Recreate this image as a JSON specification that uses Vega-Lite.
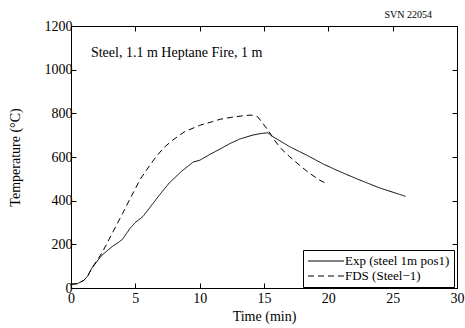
{
  "$schema": "https://vega.github.io/schema/vega-lite/v6.json",
  "width": 386,
  "height": 262,
  "autosize": {"type": "none"},
  "padding": {"left": 71, "top": 26, "right": 8, "bottom": 40},
  "background": "white",
  "title": {"text": "SVN 22054", "anchor": "end", "fontSize": 10, "font": "Liberation Serif", "fontWeight": "normal", "dx": -32, "dy": 1, "offset": 0, "color": "black"},
  "config": {
    "font": "Liberation Serif",
    "view": {"stroke": "black", "strokeWidth": 1},
    "axis": {
      "grid": false,
      "domainColor": "black",
      "tickColor": "black",
      "tickSize": -5,
      "labelFont": "Liberation Serif",
      "labelFontSize": 14,
      "labelColor": "black",
      "labelFlush": false,
      "format": "d",
      "titleFont": "Liberation Serif",
      "titleFontSize": 14,
      "titleFontWeight": "normal",
      "titleColor": "black"
    }
  },
  "datasets": {
    "curves": [
      {"series": "Exp (steel 1m pos1)", "t": 0, "T": 17},
      {"series": "Exp (steel 1m pos1)", "t": 0.5, "T": 20},
      {"series": "Exp (steel 1m pos1)", "t": 1, "T": 35},
      {"series": "Exp (steel 1m pos1)", "t": 1.3, "T": 55},
      {"series": "Exp (steel 1m pos1)", "t": 1.6, "T": 89},
      {"series": "Exp (steel 1m pos1)", "t": 2.0, "T": 120},
      {"series": "Exp (steel 1m pos1)", "t": 2.4, "T": 150},
      {"series": "Exp (steel 1m pos1)", "t": 2.8, "T": 170},
      {"series": "Exp (steel 1m pos1)", "t": 3.2, "T": 190},
      {"series": "Exp (steel 1m pos1)", "t": 3.6, "T": 205},
      {"series": "Exp (steel 1m pos1)", "t": 4.0, "T": 223},
      {"series": "Exp (steel 1m pos1)", "t": 4.6, "T": 274},
      {"series": "Exp (steel 1m pos1)", "t": 5.0, "T": 300},
      {"series": "Exp (steel 1m pos1)", "t": 5.6, "T": 328},
      {"series": "Exp (steel 1m pos1)", "t": 6.2, "T": 374},
      {"series": "Exp (steel 1m pos1)", "t": 6.9, "T": 428},
      {"series": "Exp (steel 1m pos1)", "t": 7.65, "T": 482},
      {"series": "Exp (steel 1m pos1)", "t": 8.6, "T": 535},
      {"series": "Exp (steel 1m pos1)", "t": 9.5, "T": 577},
      {"series": "Exp (steel 1m pos1)", "t": 10, "T": 585},
      {"series": "Exp (steel 1m pos1)", "t": 10.8, "T": 612},
      {"series": "Exp (steel 1m pos1)", "t": 11.6, "T": 637},
      {"series": "Exp (steel 1m pos1)", "t": 12.3, "T": 660},
      {"series": "Exp (steel 1m pos1)", "t": 13.1, "T": 682},
      {"series": "Exp (steel 1m pos1)", "t": 14.1, "T": 700},
      {"series": "Exp (steel 1m pos1)", "t": 14.7, "T": 707},
      {"series": "Exp (steel 1m pos1)", "t": 15.3, "T": 711},
      {"series": "Exp (steel 1m pos1)", "t": 15.7, "T": 693},
      {"series": "Exp (steel 1m pos1)", "t": 17, "T": 647},
      {"series": "Exp (steel 1m pos1)", "t": 18.3, "T": 609},
      {"series": "Exp (steel 1m pos1)", "t": 19.6, "T": 568},
      {"series": "Exp (steel 1m pos1)", "t": 20.9, "T": 533},
      {"series": "Exp (steel 1m pos1)", "t": 22.3, "T": 498},
      {"series": "Exp (steel 1m pos1)", "t": 24, "T": 458},
      {"series": "Exp (steel 1m pos1)", "t": 26, "T": 420},
      {"series": "FDS (Steel\u22121)", "t": 0, "T": 17},
      {"series": "FDS (Steel\u22121)", "t": 0.5, "T": 20},
      {"series": "FDS (Steel\u22121)", "t": 1, "T": 35},
      {"series": "FDS (Steel\u22121)", "t": 1.3, "T": 55},
      {"series": "FDS (Steel\u22121)", "t": 1.6, "T": 89},
      {"series": "FDS (Steel\u22121)", "t": 2.0, "T": 125},
      {"series": "FDS (Steel\u22121)", "t": 2.4, "T": 160},
      {"series": "FDS (Steel\u22121)", "t": 3.2, "T": 250},
      {"series": "FDS (Steel\u22121)", "t": 4.0, "T": 340},
      {"series": "FDS (Steel\u22121)", "t": 4.6, "T": 410},
      {"series": "FDS (Steel\u22121)", "t": 5.4, "T": 500},
      {"series": "FDS (Steel\u22121)", "t": 6.1, "T": 560},
      {"series": "FDS (Steel\u22121)", "t": 6.6, "T": 600},
      {"series": "FDS (Steel\u22121)", "t": 7.2, "T": 642},
      {"series": "FDS (Steel\u22121)", "t": 7.9, "T": 677},
      {"series": "FDS (Steel\u22121)", "t": 8.8, "T": 715},
      {"series": "FDS (Steel\u22121)", "t": 10, "T": 745},
      {"series": "FDS (Steel\u22121)", "t": 11, "T": 762},
      {"series": "FDS (Steel\u22121)", "t": 11.6, "T": 773},
      {"series": "FDS (Steel\u22121)", "t": 12.5, "T": 782},
      {"series": "FDS (Steel\u22121)", "t": 13.5, "T": 790},
      {"series": "FDS (Steel\u22121)", "t": 14, "T": 792},
      {"series": "FDS (Steel\u22121)", "t": 14.5, "T": 785},
      {"series": "FDS (Steel\u22121)", "t": 14.8, "T": 762},
      {"series": "FDS (Steel\u22121)", "t": 15.3, "T": 724},
      {"series": "FDS (Steel\u22121)", "t": 15.8, "T": 678},
      {"series": "FDS (Steel\u22121)", "t": 16.3, "T": 640},
      {"series": "FDS (Steel\u22121)", "t": 17, "T": 601},
      {"series": "FDS (Steel\u22121)", "t": 17.75, "T": 563},
      {"series": "FDS (Steel\u22121)", "t": 18.5, "T": 527},
      {"series": "FDS (Steel\u22121)", "t": 19.3, "T": 495},
      {"series": "FDS (Steel\u22121)", "t": 19.8, "T": 480}
    ],
    "note": [{"t": 1.55, "T": 1078, "label": "Steel, 1.1 m Heptane Fire, 1 m"}]
  },
  "layer": [
    {
      "data": {"name": "curves"},
      "mark": {"type": "line", "color": "black", "strokeWidth": 1},
      "encoding": {
        "x": {"field": "t", "type": "quantitative", "scale": {"domain": [0, 30], "nice": false},
              "axis": {"values": [0, 5, 10, 15, 20, 25, 30], "title": "Time (min)", "labelPadding": 8, "titlePadding": 4}},
        "y": {"field": "T", "type": "quantitative", "scale": {"domain": [0, 1200], "nice": false},
              "axis": {"values": [0, 200, 400, 600, 800, 1000, 1200], "title": "Temperature (\u00b0C)", "labelPadding": 4, "titlePadding": 22}},
        "strokeDash": {
          "field": "series", "type": "nominal",
          "scale": {"domain": ["Exp (steel 1m pos1)", "FDS (Steel\u22121)"], "range": [[1, 0], [6, 4]]},
          "legend": {
            "title": null, "orient": "none", "legendX": 232, "legendY": 224,
            "strokeColor": "black", "fillColor": "white", "padding": 4,
            "symbolType": "stroke", "symbolSize": 1300, "symbolStrokeColor": "black", "symbolStrokeWidth": 1,
            "clipHeight": 14,
            "labelFont": "Liberation Serif", "labelFontSize": 13, "labelColor": "black", "labelOffset": 0,
            "rowPadding": 1, "cornerRadius": 0
          }
        }
      }
    },
    {
      "data": {"name": "note"},
      "mark": {"type": "text", "align": "left", "baseline": "middle", "fontSize": 14, "font": "Liberation Serif", "color": "black"},
      "encoding": {
        "x": {"field": "t", "type": "quantitative", "scale": {"domain": [0, 30], "nice": false},
              "axis": {"orient": "top", "values": [0, 5, 10, 15, 20, 25, 30], "labels": false, "title": null}},
        "y": {"field": "T", "type": "quantitative", "scale": {"domain": [0, 1200], "nice": false},
              "axis": {"orient": "right", "values": [0, 200, 400, 600, 800, 1000, 1200], "labels": false, "title": null}},
        "text": {"field": "label"}
      }
    }
  ],
  "resolve": {"axis": {"x": "independent", "y": "independent"}}
}
